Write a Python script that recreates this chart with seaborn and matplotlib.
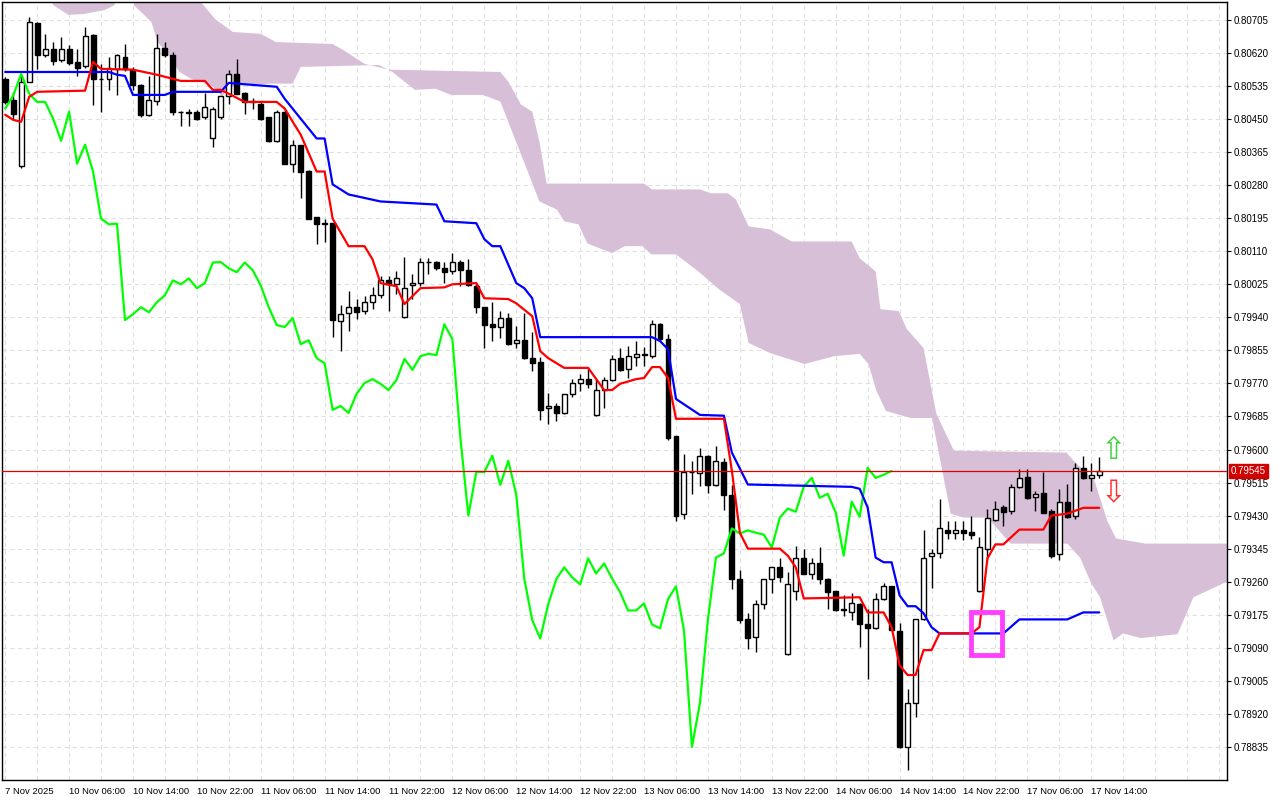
import numpy as np
import pandas as pd
import matplotlib
matplotlib.use("Agg")
import matplotlib.pyplot as plt
import seaborn as sns

# hourly candles, prices in points (1e-5)
opens = [80553, 80500, 80330, 80546, 80697, 80615, 80630, 80602, 80630, 80597,
         80587, 80666, 80553, 80553, 80579, 80610, 80577, 80538, 80461, 80497,
         80633, 80615, 80469, 80469, 80469, 80454, 80402, 80454, 80510, 80566,
         80518, 80497, 80489, 80454, 80394, 80469, 80335, 80384, 80317, 80199,
         80182, 80182, 79930, 79951, 79966, 79956, 79979, 79997, 80035, 80025,
         79940, 80022, 80028, 80081, 80081, 80066, 80058, 80081, 80061, 80020,
         79966, 79922, 79915, 79938, 79874, 79881, 79835, 79825, 79707, 79712,
         79694, 79743, 79771, 79781, 79689, 79753, 79779, 79835, 79807, 79838,
         79846, 79840, 79922, 79884, 79635, 79433, 79543, 79540, 79584, 79509,
         79568, 79484, 79268, 79163, 79117, 79202, 79266, 79297, 79073, 79235,
         79322, 79281, 79307, 79268, 79235, 79189, 79181, 79202, 79150, 79140,
         79215, 79248, 79132, 78835, 78948, 79163, 79327, 79333, 79394, 79384,
         79394, 79389, 79235, 79343, 79420, 79451, 79443, 79504, 79530, 79479,
         79487, 79443, 79330, 79466, 79430, 79553, 79527, 79535]
highs = [80559, 80520, 80566, 80712, 80700, 80669, 80648, 80661, 80641, 80630,
         80687, 80669, 80592, 80610, 80618, 80643, 80584, 80540, 80561, 80669,
         80648, 80623, 80471, 80477, 80474, 80518, 80482, 80510, 80577, 80605,
         80520, 80505, 80494, 80456, 80474, 80477, 80397, 80384, 80320, 80199,
         80194, 80182, 79971, 80007, 79987, 79994, 80017, 80046, 80046, 80058,
         80094, 80051, 80092, 80092, 80084, 80081, 80105, 80087, 80089, 80025,
         79966, 79979, 79956, 79951, 79917, 79951, 79902, 79838, 79745, 79720,
         79743, 79781, 79794, 79807, 79781, 79787, 79843, 79861, 79866, 79879,
         79864, 79933, 79925, 79897, 79635, 79589, 79571, 79604, 79586, 79610,
         79579, 79509, 79289, 79179, 79212, 79268, 79299, 79322, 79284, 79353,
         79343, 79322, 79350, 79270, 79236, 79225, 79230, 79204, 79191, 79230,
         79256, 79250, 79153, 78984, 79165, 79392, 79343, 79474, 79417, 79417,
         79417, 79430, 79374, 79448, 79468, 79458, 79512, 79551, 79551, 79494,
         79543, 79448, 79499, 79512, 79566, 79584, 79566, 79581]
lows = [80489, 80448, 80325, 80546, 80579, 80610, 80589, 80597, 80589, 80561,
        80582, 80487, 80469, 80525, 80512, 80574, 80525, 80456, 80459, 80487,
        80610, 80461, 80433, 80433, 80448, 80451, 80379, 80451, 80489, 80515,
        80464, 80477, 80448, 80392, 80392, 80334, 80315, 80246, 80192, 80128,
        80135, 79889, 79853, 79904, 79935, 79948, 79961, 79989, 79956, 79999,
        79938, 79987, 80020, 80051, 80061, 80028, 80051, 80020, 80020, 79951,
        79861, 79879, 79887, 79870, 79861, 79833, 79802, 79676, 79666, 79674,
        79692, 79735, 79751, 79758, 79687, 79707, 79776, 79802, 79784, 79815,
        79815, 79835, 79879, 79625, 79417, 79422, 79486, 79507, 79489, 79507,
        79445, 79240, 79153, 79086, 79079, 79189, 79232, 79258, 79071, 79212,
        79280, 79266, 79253, 79191, 79184, 79173, 79161, 79091, 79009, 79138,
        79212, 79132, 78832, 78776, 78912, 79161, 79245, 79320, 79371, 79371,
        79368, 79371, 79233, 79315, 79415, 79404, 79435, 79502, 79474, 79443,
        79437, 79322, 79315, 79425, 79422, 79525, 79494, 79527]
closes = [80494, 80464, 80546, 80700, 80615, 80630, 80600, 80630, 80594, 80582,
          80664, 80553, 80552, 80582, 80615, 80579, 80538, 80461, 80500, 80633,
          80615, 80469, 80468, 80466, 80451, 80482, 80477, 80510, 80566, 80515,
          80494, 80494, 80451, 80394, 80469, 80335, 80384, 80315, 80194, 80179,
          80181, 79933, 79948, 79966, 79953, 79979, 79997, 80035, 80025, 80040,
          80015, 80028, 80081, 80082, 80066, 80056, 80081, 80061, 80022, 79966,
          79920, 79915, 79938, 79871, 79881, 79835, 79822, 79702, 79712, 79694,
          79743, 79771, 79781, 79769, 79753, 79779, 79833, 79805, 79840, 79846,
          79843, 79922, 79884, 79630, 79430, 79543, 79542, 79584, 79509, 79571,
          79484, 79268, 79161, 79114, 79202, 79266, 79297, 79271, 79253, 79320,
          79281, 79307, 79268, 79233, 79186, 79186, 79204, 79150, 79140, 79215,
          79248, 79135, 78835, 78948, 79163, 79322, 79333, 79397, 79384, 79392,
          79386, 79381, 79348, 79425, 79448, 79440, 79504, 79527, 79476, 79486,
          79438, 79327, 79466, 79427, 79553, 79527, 79535, 79545]

# Tenkan-sen (red) and Kijun-sen (blue) vertices: bar, price points
tenkan_bar = [0, 1, 2, 3, 4, 10, 11, 12, 16, 19, 22, 25, 26, 27, 28, 30, 34, 35, 36, 37,
              39, 40, 41, 43, 45, 46, 47, 49, 50, 52, 55, 56, 59, 60, 63, 64, 66, 67, 68, 70,
              73, 75, 76, 77, 79, 80, 81, 82, 83, 84, 90, 91, 92, 93, 97, 98, 99, 100, 107, 108,
              110, 111, 112, 113, 114, 115, 116, 117, 121, 122, 123, 124, 125, 127, 130, 131, 133, 135, 137]
tenkan_val = [80461, 80448, 80443, 80507, 80520, 80523, 80597, 80579, 80577, 80564, 80548, 80548, 80525, 80525, 80515, 80494, 80494, 80477, 80443, 80410,
              80315, 80315, 80194, 80123, 80123, 80089, 80028, 80020, 79974, 80015, 80017, 80025, 80028, 79989, 79987, 79976, 79943, 79853, 79835, 79810,
              79810, 79753, 79753, 79769, 79781, 79784, 79812, 79812, 79784, 79679, 79679, 79545, 79386, 79345, 79345, 79327, 79297, 79217, 79220, 79181,
              79181, 79143, 79045, 79020, 79020, 79084, 79084, 79127, 79127, 79143, 79320, 79356, 79356, 79394, 79394, 79430, 79435, 79450, 79450]
kijun_bar = [0, 13, 14, 15, 16, 20, 21, 27, 28, 29, 34, 35, 37, 39, 40, 41, 43, 47, 54, 55,
             59, 60, 61, 62, 64, 65, 66, 67, 81, 82, 83, 84, 87, 90, 91, 93, 106, 107, 108, 109,
             110, 111, 112, 113, 114, 115, 116, 117, 125, 127, 133, 135, 137]
kijun_val = [80571, 80571, 80564, 80561, 80512, 80512, 80520, 80520, 80543, 80541, 80533, 80502, 80451, 80400, 80400, 80282, 80256, 80238, 80230, 80187,
             80182, 80141, 80123, 80123, 80028, 80015, 79989, 79889, 79889, 79879, 79858, 79730, 79689, 79687, 79592, 79510, 79504, 79499, 79451, 79322,
             79310, 79310, 79225, 79197, 79197, 79179, 79143, 79127, 79127, 79163, 79163, 79181, 79181]

# Kumo edges (vertices, bar, price points)
span_top_bar = [-1, 24.5, 26.3, 28.5, 32, 33.9, 41, 42.3, 45, 48, 62, 63, 64.6, 66, 66.9, 67.8, 80, 81, 87, 88.4,
                90.5, 91.5, 93.1, 95.8, 98.5, 106, 107, 109, 109.6, 111.9, 112.9, 115, 116.6, 118.8, 132.9, 133.8, 136.4, 138, 139.1, 142.8, 154]
span_top_val = [80828, 80751, 80707, 80674, 80669, 80648, 80643, 80628, 80592, 80577, 80571, 80546, 80487, 80469, 80392, 80284, 80284, 80269, 80269, 80259,
                80259, 80243, 80174, 80166, 80135, 80135, 80092, 80058, 79961, 79956, 79910, 79861, 79692, 79597, 79592, 79571, 79520, 79417, 79371, 79358, 79358]
span_bot_bar = [-1, 5.7, 6, 7.9, 9.8, 12.4, 13.7, 14, 16, 16.1, 18.3, 19.1, 20.9, 21.8, 23.5, 25.4, 26.6, 27.1, 27.6, 28.9,
                33.4, 36, 37, 46.8, 48.5, 51.3, 53.9, 55.8, 59.8, 62, 64.6, 66.9, 69.1, 70, 71.8, 72.9, 76, 77.6, 79.8, 80.9,
                84, 86.8, 89.4, 92, 93.1, 95.8, 100.1, 103.8, 107, 108.1, 109.1, 110.3, 113.4, 116.1, 116.3, 118.4, 120, 123, 125.9, 133,
                134.6, 136, 137.1, 138.8, 140, 142.2, 146.8, 148.8, 154]
span_bot_val = [80828, 80764, 80743, 80718, 80720, 80730, 80743, 80777, 80777, 80743, 80700, 80648, 80602, 80571, 80551, 80541, 80525, 80507, 80520, 80538,
                80541, 80541, 80584, 80589, 80571, 80525, 80528, 80512, 80512, 80495, 80359, 80238, 80217, 80187, 80179, 80130, 80105, 80123, 80123, 80102,
                80102, 80058, 80012, 79974, 79874, 79848, 79820, 79840, 79846, 79820, 79751, 79699, 79681, 79681, 79656, 79435, 79425, 79425, 79358, 79358,
                79322, 79256, 79220, 79109, 79127, 79115, 79125, 79220, 79270]

xlabels = ["7 Nov 2025", "10 Nov 06:00", "10 Nov 14:00", "10 Nov 22:00", "11 Nov 06:00",
           "11 Nov 14:00", "11 Nov 22:00", "12 Nov 06:00", "12 Nov 14:00", "12 Nov 22:00",
           "13 Nov 06:00", "13 Nov 14:00", "13 Nov 22:00", "14 Nov 06:00", "14 Nov 14:00",
           "14 Nov 22:00", "17 Nov 06:00", "17 Nov 14:00"]
yticks = [78835, 78920, 79005, 79090, 79175, 79260, 79345, 79430, 79515, 79600,
          79685, 79770, 79855, 79940, 80025, 80110, 80195, 80280, 80365, 80450,
          80535, 80620, 80705]
last_price = 79545
shift = 26

P = 1e-5
df = pd.DataFrame({"o": opens, "h": highs, "l": lows, "c": closes}) * P
df["bar"] = np.arange(len(df))
chikou = pd.DataFrame({"bar": df["bar"][:-shift].values, "v": df["c"][shift:].values})
tenkan = pd.DataFrame({"bar": tenkan_bar, "v": np.array(tenkan_val) * P})
kijun = pd.DataFrame({"bar": kijun_bar, "v": np.array(kijun_val) * P})

sns.set_style("white")
plt.rcParams["font.family"] = ["Liberation Sans", "DejaVu Sans"]
fig = plt.figure(figsize=(12.8, 8), dpi=100)
ax = fig.add_axes([2 / 1280, 20 / 800, 1225 / 1280, 778 / 800])

# cloud
poly_x = list(span_top_bar) + list(span_bot_bar[::-1])
poly_y = list(np.array(span_top_val) * P) + list(np.array(span_bot_val[::-1]) * P)
ax.fill(poly_x, poly_y, color="#d8bfd8", lw=0, zorder=1)

# grid
for b in range(0, 156, 4):
    ax.axvline(b, color="#e0e0e0", ls=(0, (4, 3)), lw=0.8, zorder=0)
for t in yticks:
    ax.axhline(t * P, color="#e0e0e0", ls=(0, (4, 3)), lw=0.8, zorder=0)

# candles
bull = df["c"] >= df["o"]
ax.vlines(df["bar"], df["l"], df["h"], color="black", lw=1, zorder=3)
body_lo = np.minimum(df["o"], df["c"])
body_h = np.maximum((df["c"] - df["o"]).abs(), 0.000012)
ax.bar(df["bar"][bull], body_h[bull], bottom=body_lo[bull], width=0.62,
       facecolor="white", edgecolor="black", lw=1, zorder=4)
ax.bar(df["bar"][~bull], body_h[~bull], bottom=body_lo[~bull], width=0.62,
       facecolor="black", edgecolor="black", lw=1, zorder=4)

# ichimoku lines
sns.lineplot(data=chikou, x="bar", y="v", color="#00ff00", lw=1.6, ax=ax,
             estimator=None, sort=False, zorder=5)
sns.lineplot(data=kijun, x="bar", y="v", color="#0000ff", lw=1.6, ax=ax,
             estimator=None, sort=False, zorder=5)
sns.lineplot(data=tenkan, x="bar", y="v", color="#ff0000", lw=1.6, ax=ax,
             estimator=None, sort=False, zorder=6)

# current price line
ax.axhline(last_price * P, color="#e00000", lw=0.9, zorder=7)

# marker box and arrows
ax.add_patch(plt.Rectangle((120.9, 0.79071), 3.9, 0.00110, fill=False,
                           edgecolor="#ff40ff", lw=3.5, zorder=8))
ax.text(138.8, 0.79597, "\u21e7", color="#40d040", fontsize=22, ha="center",
        va="center", zorder=8, family="DejaVu Sans")
ax.text(138.8, 0.79487, "\u21e9", color="#ff3030", fontsize=22, ha="center",
        va="center", zorder=8, family="DejaVu Sans")

ax.set_xlim(-0.4, 153)
ax.set_ylim(0.78750, 0.80751)
ax.set_xlabel("")
ax.set_ylabel("")
ax.set_xticks(range(0, 8 * len(xlabels), 8))
ax.set_xticklabels(xlabels, fontsize=6.8, ha="left")
ax.yaxis.tick_right()
ax.set_yticks([t * P for t in yticks])
ax.set_yticklabels(["%.5f" % (t * P) for t in yticks], fontsize=7)
ax.tick_params(axis="both", length=3, width=0.8, pad=2, colors="black")
for s in ax.spines.values():
    s.set_color("black")
    s.set_linewidth(1)

ax.text(1.003, (last_price * P - 0.78750) / (0.80751 - 0.78750), "%.5f" % (last_price * P),
        transform=ax.transAxes, fontsize=7, color="white", va="center", ha="left",
        bbox=dict(boxstyle="square,pad=0.2", fc="#d00000", ec="#d00000"), zorder=9)

fig.savefig("out.png", dpi=100, facecolor="white")
